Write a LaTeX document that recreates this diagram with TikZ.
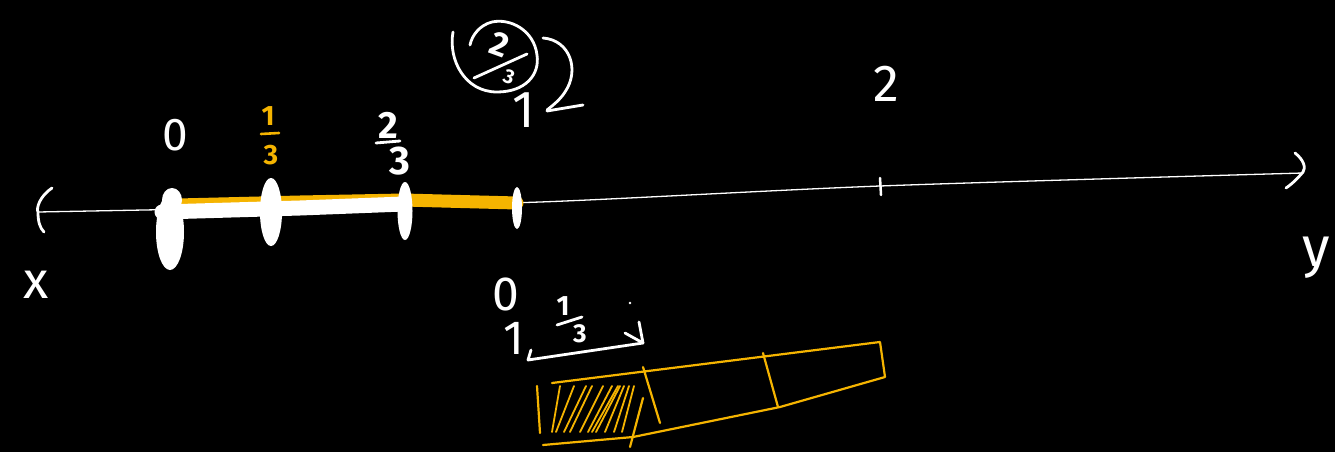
\documentclass[tikz,border=0pt]{standalone}
\usepackage{fontspec}
\setmainfont{Fira Sans}
\usetikzlibrary{arrows.meta}
\definecolor{hlorange}{RGB}{245,180,0}
\tikzset{
  pen/.style={white, line width=2.8pt, line cap=round, line join=round},
  thin pen/.style={white, line width=1.3pt, line cap=round},
  open pen/.style={hlorange, line width=2.2pt, line cap=round, line join=round},
  lbl/.style={white, font=\fontsize{46}{46}\selectfont, inner sep=0pt},
  small lbl/.style={font=\fontsize{28}{28}\selectfont\bfseries, inner sep=0pt},
  blob/.style={white, fill=white, draw=none}
}
\begin{document}
\begin{tikzpicture}[x=1pt,y=-1pt]
\fill[black] (0,0) rectangle (1335,452);
\useasboundingbox (0,0) rectangle (1335,452);

% main number line
\draw[thin pen] plot[smooth] coordinates {(38,212) (300,207) (540,202) (880,186) (1303,173)};
% left and right arrow heads
\draw[pen] (52,188) .. controls (40,196) and (36,208) .. (38,212) .. controls (38,222) and (40,228) .. (44,232);
\draw[pen] (1295,153) .. controls (1304,160) and (1306,168) .. (1303,172) .. controls (1298,178) and (1292,184) .. (1286,188);

% thick highlighted bands
\draw[hlorange, line width=13pt, line cap=round] (178,205) -- (300,202) -- (404,200) -- (517,203);
\draw[white, line width=15pt, line cap=round] (162,212) -- (300,208) -- (404,204);

% tick blobs
\fill[blob] (170,232) ellipse (14 and 38);
\fill[blob] (172,200) ellipse (10 and 12);
\fill[blob] (271,212) ellipse (11 and 34);
\fill[blob] (405,211) ellipse (7.5 and 29);
\fill[blob] (517,208) ellipse (5 and 21);
\draw[white, line width=2.5pt, line cap=round] (880,178) -- (881,195);

% labels on the line
\node[lbl] (zero) at (175,135) {0};
\node[small lbl, hlorange] (thirdnum) at (268,116) {1};
\draw[hlorange, line width=2.6pt, line cap=round] (261,134) -- (279,133);
\node[small lbl, hlorange] (thirdden) at (271,155) {3};
\node[small lbl, white, font=\fontsize{38}{38}\selectfont\bfseries] (ttnum) at (388,125) {2};
\draw[pen] (376,143) -- (400,141);
\node[small lbl, white, font=\fontsize{40}{40}\selectfont\bfseries] (ttden) at (400,161) {3};
\node[lbl, font=\fontsize{52}{52}\selectfont] (one) at (524,110) {1};
\node[lbl, font=\fontsize{52}{52}\selectfont] (two) at (886,84) {2};
\node[lbl, font=\fontsize{52}{52}\selectfont] (xl) at (36,285) {x};
\node[lbl, font=\fontsize{56}{56}\selectfont] (yl) at (1316,258) {y};

% circled 2/3 with curved arrow
\draw[pen] (453,32) .. controls (448,60) and (465,92) .. (497,92) .. controls (525,92) and (540,75) .. (537,55) .. controls (534,30) and (510,18) .. (492,22) .. controls (480,25) and (472,35) .. (470,45);
\node[small lbl, white, rotate=-20, font=\fontsize{34}{34}\selectfont\bfseries] (circnum) at (500,44) {2};
\draw[pen] (474,78) -- (527,54);
\node[small lbl, white, rotate=-20, font=\fontsize{20}{20}\selectfont\bfseries] (circden) at (509,77) {3};
\draw[pen] (543,38) .. controls (570,40) and (580,70) .. (565,92) .. controls (560,100) and (552,106) .. (547,110);
\draw[pen] (547,111) -- (583,105);

% lower labels and arrow
\node[lbl, font=\fontsize{48}{48}\selectfont] (zb) at (506,294) {0};
\node[lbl, font=\fontsize{48}{48}\selectfont] (ob) at (514,338) {1};
\node[small lbl, white, font=\fontsize{28}{28}\selectfont\bfseries] (bnum) at (563,306) {1};
\draw[pen] (557,325) -- (582,317);
\node[small lbl, white, font=\fontsize{26}{26}\selectfont\bfseries] (bden) at (580,334) {3};
\fill[white] (630,303) circle (1.3);
\coordinate (arrs) at (528,358);
\coordinate (arre) at (643,343);
\draw[pen] (531,350) -- (528,360) -- (arre);
\draw[pen] (639,322) -- (arre) -- (625,333);

% orange strip
\draw[open pen] (552,383) -- (880,342) -- (885,377) -- (780,407) -- (633,437) -- (543,445);
\draw[open pen] (537,386) -- (540,433);
\draw[open pen] (643,367) -- (660,423);
\draw[open pen] (763,353) -- (778,407);
\draw[open pen] (643,398) -- (630,447);
% hatching
\foreach \a/\b in {552/560, 556/574, 564/586, 570/592, 580/603, 588/612, 592/618, 596/620, 605/624, 614/629, 622/634} {
  \draw[hlorange, line width=1.8pt, line cap=round] (\a,432) -- (\b,386);
}
\end{tikzpicture}
\end{document}
